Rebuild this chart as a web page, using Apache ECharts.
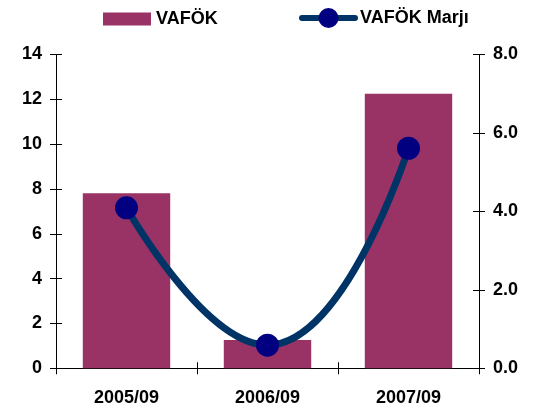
<!DOCTYPE html>
<html>
<head>
<meta charset="utf-8">
<script src="https://cdn.jsdelivr.net/npm/echarts@6/dist/echarts.min.js"></script>
<style>html,body{margin:0;padding:0;background:#fff}#c{width:540px;height:410px}</style>
</head>
<body>
<div id="c"></div>
<script>
const categories = ['2005/09', '2006/09', '2007/09'];
const vafok = [7.81, 1.26, 12.25];
const marj = [4.09, 0.59, 5.61];
const leftTicks = {min: 0, max: 14, interval: 2};
const rightTicks = {min: 0, max: 8, interval: 2};

const FONT = 'Liberation Sans';
const lbl = {color: '#000', fontFamily: FONT, fontWeight: 'bold', fontSize: 18};
const chart = echarts.init(document.getElementById('c'));

function yAx(pos, t, inside, showLabel, fmt) {
  return {
    type: 'value', position: pos, min: t.min, max: t.max, interval: t.interval,
    splitLine: {show: false},
    axisLine: {show: showLabel, lineStyle: {color: '#000', width: 1}},
    axisTick: {show: true, inside: inside, length: 6, lineStyle: {color: '#000'}},
    axisLabel: Object.assign({show: showLabel, margin: 14, formatter: fmt}, lbl)
  };
}

chart.setOption({
  animation: false,
  backgroundColor: '#fff',
  legend: [
    {data: [{name: 'VAFÖK', icon: 'rect'}], left: 103, top: 10, padding: 0, itemWidth: 48, itemHeight: 13,
     textStyle: Object.assign({}, lbl, {fontSize: 18})},
    {data: ['VAFÖK Marjı'], left: 299, top: 8, padding: 0, itemWidth: 53, itemHeight: 25,
     lineStyle: {width: 6, cap: 'round', color: '#003366'},
     textStyle: Object.assign({}, lbl, {fontSize: 18})}
  ],
  grid: {left: 56, right: 61, top: 54.5, bottom: 41.7, outerBoundsMode: 'none'},
  xAxis: [
    {type: 'category', data: categories, position: 'bottom',
     axisLine: {lineStyle: {color: '#000', width: 1}},
     axisTick: {show: true, length: 6, lineStyle: {color: '#000'}},
     axisLabel: Object.assign({margin: 21}, lbl)},
    {type: 'category', data: categories, position: 'bottom',
     axisLine: {show: false},
     axisTick: {show: true, inside: true, length: 6, lineStyle: {color: '#000'}},
     axisLabel: {show: false}}
  ],
  yAxis: [
    yAx('left', leftTicks, false, true, v => String(v)),
    yAx('right', rightTicks, false, true, v => v.toFixed(1)),
    yAx('left', leftTicks, true, false),
    yAx('right', rightTicks, true, false)
  ],
  series: [
    {name: 'VAFÖK', type: 'bar', data: vafok, yAxisIndex: 0, barCategoryGap: '38%',
     itemStyle: {color: '#993366'}},
    {name: 'VAFÖK Marjı', type: 'line', data: marj, yAxisIndex: 1, smooth: true,
     symbol: 'circle', symbolSize: 23,
     lineStyle: {color: '#003366', width: 7},
     itemStyle: {color: '#000080', borderWidth: 0}, z: 5}
  ]
});
</script>
</body>
</html>
